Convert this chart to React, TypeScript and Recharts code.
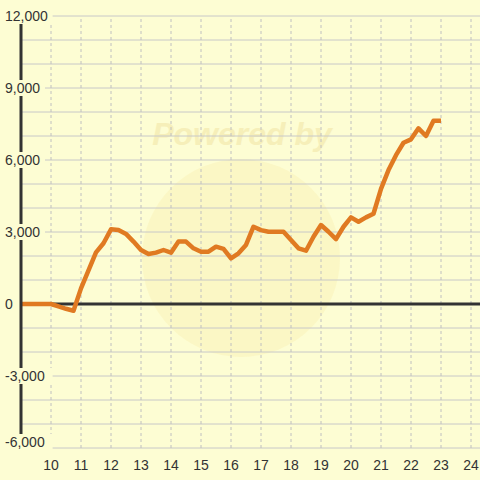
import React from 'react';
import { LineChart, Line, XAxis, YAxis, CartesianGrid, ReferenceLine } from 'recharts';

const hours = [9, 9.25, 9.5, 9.75, 10, 10.25, 10.5, 10.75, 11, 11.25, 11.5, 11.75, 12, 12.25, 12.5, 12.75, 13, 13.25, 13.5, 13.75, 14, 14.25, 14.5, 14.75, 15, 15.25, 15.5, 15.75, 16, 16.25, 16.5, 16.75, 17, 17.25, 17.5, 17.75, 18, 18.25, 18.5, 18.75, 19, 19.25, 19.5, 19.75, 20, 20.25, 20.5, 20.75, 21, 21.25, 21.5, 21.75, 22, 22.25, 22.5, 22.75, 23];
const values = [0, 0, 0, 0, 0, -100, -200, -280, 650, 1400, 2150, 2530, 3110, 3080, 2920, 2600, 2250, 2080, 2140, 2250, 2140, 2600, 2600, 2320, 2180, 2180, 2390, 2300, 1900, 2110, 2460, 3220, 3080, 3010, 3010, 3010, 2670, 2320, 2220, 2800, 3290, 3010, 2700, 3220, 3610, 3430, 3610, 3760, 4800, 5580, 6200, 6720, 6860, 7320, 7000, 7640, 7640];
const xTicks = [10, 11, 12, 13, 14, 15, 16, 17, 18, 19, 20, 21, 22, 23, 24];
const yTicks = [-6000, -3000, 0, 3000, 6000, 9000, 12000];
const yGrid = [-6000, -5000, -4000, -3000, -2000, -1000, 0, 1000, 2000, 3000, 4000, 5000, 6000, 7000, 8000, 9000, 10000, 11000, 12000];

const data = hours.map((h, i) => ({ h, v: values[i] }));

const BG = '#fdfdd3';

const fmt = (n: number) => n.toLocaleString('en-US');

const YTick = (props: any) => {
  const { y, payload } = props;
  const label = fmt(payload.value);
  let ty = y;
  if (payload.value === -6000) ty = y - 6;
  const w = label.length * 7.6 + 3;
  return (
    <g>
      <rect x={4} y={ty - 8} width={Math.max(w, 12)} height={16} fill={BG} />
      <text x={5} y={ty} dy={5} fontSize={14} fill="#333" textAnchor="start" fontFamily="'Liberation Sans', Arial, sans-serif">
        {label}
      </text>
    </g>
  );
};

export default function App() {
  return (
    <div style={{ position: 'absolute', left: 0, top: 0, width: 480, height: 480, background: BG, overflow: 'hidden' }}>
      <svg width={480} height={480} style={{ position: 'absolute', left: 0, top: 0 }}>
        <circle cx={241} cy={258} r={99} fill="#f9eba0" opacity={0.28} />
        <text x={242} y={145} textAnchor="middle" fontSize={32} fontWeight="bold" fontStyle="italic" fill="#f3e6a8" opacity={0.6} fontFamily="'Liberation Sans', Arial, sans-serif">
          Powered by
        </text>
      </svg>
      <div style={{ position: 'absolute', left: 0, top: 0 }}>
        <LineChart width={480} height={480} data={data} margin={{ top: 16, right: 0, left: 0, bottom: 0 }}>
          <CartesianGrid stroke="#c8c8c8" vertical={false} horizontalValues={yGrid} />
          {xTicks.map((t) => (
            <ReferenceLine key={t} x={t} stroke="#c0c0c0" strokeDasharray="3 3" strokeWidth={1} />
          ))}
          <XAxis
            dataKey="h"
            type="number"
            domain={[9, 24.3]}
            ticks={xTicks}
            axisLine={false}
            tickLine={false}
            height={32}
            interval={0}
            tick={{ fontSize: 14, fill: '#333', fontFamily: "'Liberation Sans', Arial, sans-serif" }}
            tickMargin={6}
            allowDataOverflow
          />
          <ReferenceLine y={0} stroke="#333" strokeWidth={3} />
          <YAxis
            type="number"
            domain={[-6000, 12000]}
            ticks={yTicks}
            width={21}
            axisLine={{ stroke: '#333', strokeWidth: 3 }}
            tickLine={false}
            interval={0}
            tick={<YTick />}
          />
          <Line
            type="linear"
            dataKey="v"
            stroke="#e07a22"
            strokeWidth={4.5}
            dot={false}
            strokeLinejoin="round"
            isAnimationActive={false}
          />
        </LineChart>
      </div>
    </div>
  );
}
